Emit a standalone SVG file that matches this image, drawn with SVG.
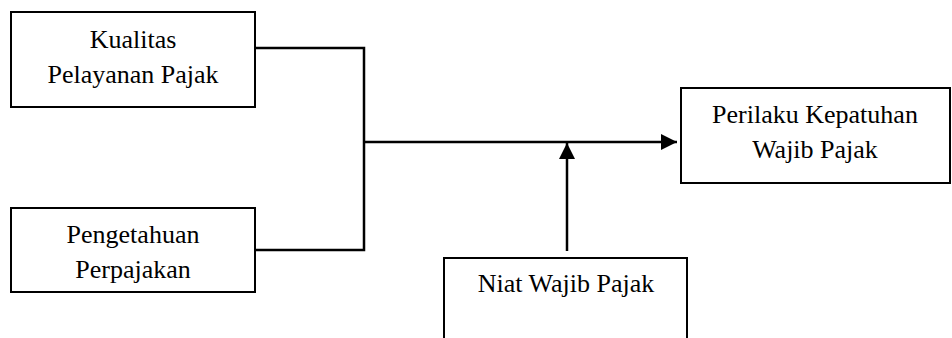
<svg xmlns="http://www.w3.org/2000/svg" width="952" height="338" viewBox="0 0 952 338">
<style>
.box{fill:#fff;stroke:#000;stroke-width:2}
.t{font-family:"Liberation Serif","Times New Roman",serif;font-size:26px;fill:#000;text-anchor:middle}
.ln{fill:none;stroke:#000;stroke-width:2.5}
</style>
<defs>
<marker id="ah" markerWidth="16" markerHeight="16" viewBox="0 0 16 16" refX="16" refY="8" orient="auto" markerUnits="userSpaceOnUse">
<path d="M0,0 L16,8 L0,16 Z" fill="#000"/>
</marker>
</defs>
<g id="n1"><rect class="box" x="11" y="12" width="244" height="95"/>
<text class="t" x="133" y="48">Kualitas</text><text class="t" x="133" y="83">Pelayanan Pajak</text></g>
<g id="n2"><rect class="box" x="11" y="208" width="244" height="84"/>
<text class="t" x="133" y="243">Pengetahuan</text><text class="t" x="133" y="278">Perpajakan</text></g>
<g id="n3"><rect class="box" x="681" y="88" width="269" height="95"/>
<text class="t" x="815" y="123">Perilaku Kepatuhan</text><text class="t" x="815" y="158">Wajib Pajak</text></g>
<g id="n4"><rect class="box" x="444" y="258" width="243" height="90"/>
<text class="t" x="566" y="292">Niat Wajib Pajak</text></g>
<g id="edges">
<path class="ln" d="M255,48 H364 V250 H255"/>
<path class="ln" d="M364,142 H677" marker-end="url(#ah)"/>
<path class="ln" d="M567,251 V143" marker-end="url(#ah)"/>
</g>
</svg>
